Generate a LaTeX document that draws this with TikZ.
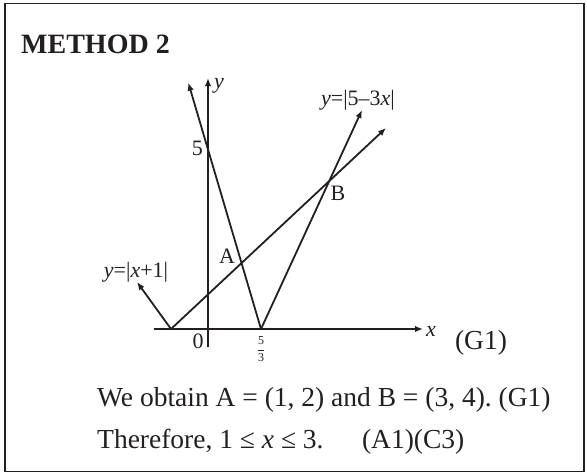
\documentclass[tikz,border=0pt]{standalone}
\usepackage{fontspec}
\setmainfont{Liberation Serif}
\usepackage{tikz}
\usetikzlibrary{positioning,arrows.meta}
\definecolor{inkblack}{HTML}{231F20}
\frenchspacing
\tikzset{
  gr frame/.style={draw=inkblack, line width=1.4pt},
  gr arr/.style={-{Latex[length=8pt,width=6.5pt]}, line width=1.8pt, inkblack},
  gr lbl/.style={font=\fontsize{22}{24}\selectfont, text=inkblack, inner sep=0pt},
  gr txt/.style={font=\fontsize{27.5}{30}\selectfont, text=inkblack, inner sep=0pt, anchor=base west},
}

\begin{document}
\begin{tikzpicture}[x=1pt, y=-1pt]
  \useasboundingbox (0,0) rectangle (587,475);
  \draw[gr frame] (5,3.5) rectangle (584,471.5);
  \node[gr txt, font=\fontsize{28}{30}\selectfont\bfseries] (head) at (21,53) {METHOD 2};
  % axes
  \coordinate (xL) at (153.6,329); \coordinate (xR) at (423,329);
  \coordinate (yB) at (208,347); \coordinate (yT) at (208,78);
  \draw[gr arr] (xL) -- (xR);
  \draw[gr arr] (yB) -- (yT);
  % the two graphs: vertex and arrow ends
  \coordinate (v53) at (261,329); \coordinate (v53l) at (188.3,82.7); \coordinate (v53r) at (362,110);
  \coordinate (v1) at (171,329);  \coordinate (v1l) at (137,282);    \coordinate (v1r) at (386,128);
  \foreach \a/\b in {v53/v53l, v53/v53r, v1/v1l, v1/v1r}
     \draw[gr arr, shorten <=-0.5pt] (\a) -- (\b);
  % labels
  \node[gr lbl, anchor=west] (ylab) at (214,86) {\textit{y}};
  \node[gr lbl, anchor=west] (xlab) at (426,331) {\textit{x}};
  \node[gr lbl, anchor=east] (five) at (203,148) {5};
  \node[gr lbl] (zero) at (198,341) {0};
  \node[gr lbl, font=\fontsize{12}{12}\selectfont] (f53) at (261,349) {$\displaystyle\frac{\mbox{5}}{\mbox{3}}$};
  \node[gr lbl] (Alab) at (227,256) {A};
  \node[gr lbl] (Blab) at (338,193) {B};
  \node[gr lbl] (g53) at (358,100) {\textit{y}=|5--3\textit{x}|};
  \node[gr lbl] (g1) at (136,272) {\textit{y}=|\textit{x}+1|};
  \node[gr txt, anchor=center] (g1mark) at (481,343) {(G1)};
  % text below the graph
  \node[gr txt] (obt) at (97,406) {We obtain A = (1, 2) and B = (3, 4). (G1)};
  \node[gr txt] (thr) at (97,448) {Therefore, 1 ≤ \textit{x} ≤ 3.};
  \node[gr txt] (marks) at ([xshift=38pt]thr.base east) {(A1)(C3)};
\end{tikzpicture}
\end{document}
